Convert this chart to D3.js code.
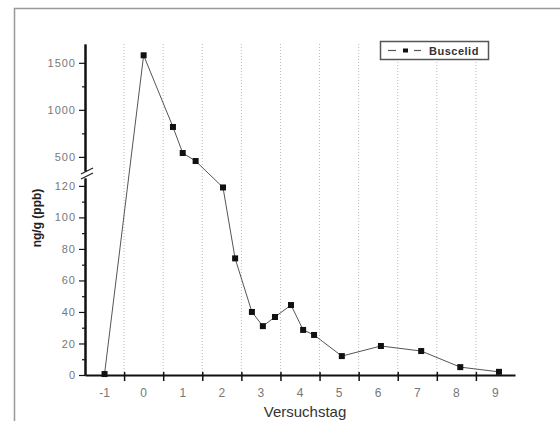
<!DOCTYPE html>
<html>
<head>
<meta charset="utf-8">
<script src="https://cdn.jsdelivr.net/npm/d3@7"></script>
<style>
  body { margin: 0; background: #fff; }
  #chart text { font-family: "Liberation Sans", Arial, sans-serif; }
</style>
</head>
<body>
<div id="chart"></div>
<script>
// Versuchstag (day) and concentration ng/g
var days = [-1, 0, 0.75, 1, 1.33, 2.03, 2.34, 2.77, 3.05, 3.36, 3.77, 4.08, 4.36, 5.07, 6.07, 7.1, 8.1, 9.09];
var conc = [0.6, 1580, 818, 541, 456, 119, 74, 40, 31, 36.8, 44.4, 28.6, 25.4, 12, 18.4, 15.2, 5, 2];

var dayLabels = [-1, 0, 1, 2, 3, 4, 5, 6, 7, 8, 9];
var dayTicks = [-0.5, 0.5, 1.5, 2.5, 3.5, 4.5, 5.5, 6.5, 7.5, 8.5];
var upperTicks = [500, 1000, 1500];
var upperMinor = [750, 1250];
var lowerTicks = [0, 20, 40, 60, 80, 100, 120];
var lowerMinor = [10, 30, 50, 70, 90, 110];
var seriesName = "Buscelid";

function chart() {
  var w = 560;
  var h = 421;
  var breakAt = 125;

  var svg = d3.select("#chart")
              .append("svg")
              .attr("width", w)
              .attr("height", h);

  // outer frame (only top and left visible)
  svg.append("path")
     .attr("d", "M14.5,421V8.5H560")
     .attr("fill", "none")
     .attr("stroke", "#999")
     .attr("stroke-width", 1.5);

  var x = d3.scaleLinear().domain([-1.5, 9.5]).range([85, 515]);
  // broken y axis: two pieces
  var yLow = d3.scaleLinear().domain([0, breakAt]).range([375, 178]);
  var yHigh = d3.scaleLinear().domain([350, 1700]).range([171, 44]);
  function y(v) { return v <= breakAt ? yLow(v) : yHigh(v); }

  // vertical dotted grid
  svg.append("g")
     .selectAll("line")
     .data(dayTicks)
     .enter()
     .append("line")
     .attr("x1", function(d) { return x(d); })
     .attr("x2", function(d) { return x(d); })
     .attr("y1", 44)
     .attr("y2", 375)
     .attr("stroke", "#bbb")
     .attr("stroke-width", 1)
     .attr("stroke-dasharray", "1,2");

  // x axis
  var xAxis = svg.append("g")
     .attr("transform", "translate(0,375)")
     .call(d3.axisBottom(x).tickValues(dayTicks).tickSize(6).tickSizeOuter(0).tickFormat(""));
  xAxis.select(".domain").attr("stroke", "#111").attr("stroke-width", 2);
  xAxis.selectAll(".tick line").attr("stroke", "#111").attr("stroke-width", 1.5).attr("y1", -3);

  svg.append("g")
     .selectAll("text")
     .data(dayLabels)
     .enter()
     .append("text")
     .attr("x", function(d) { return x(d); })
     .attr("y", 397)
     .attr("text-anchor", "middle")
     .attr("font-size", 12)
     .attr("fill", "#777")
     .text(function(d) { return d; });

  // y axes
  function styleY(g) {
    g.select(".domain").attr("stroke", "#111").attr("stroke-width", 2);
    g.selectAll(".tick line").attr("stroke", "#111").attr("stroke-width", 1.2);
    g.selectAll(".tick text")
     .attr("font-size", 11)
     .attr("letter-spacing", 1)
     .attr("fill", "#777");
  }
  var fmt = d3.format("d");
  var gHigh = svg.append("g")
     .attr("transform", "translate(85,0)")
     .call(d3.axisLeft(yHigh).tickValues(upperTicks).tickFormat(fmt).tickSize(6).tickSizeOuter(0).tickPadding(3));
  styleY(gHigh);
  svg.append("g")
     .attr("transform", "translate(85,0)")
     .call(d3.axisLeft(yHigh).tickValues(upperMinor).tickSize(3).tickSizeOuter(0).tickFormat(""))
     .call(styleY);

  var gLow = svg.append("g")
     .attr("transform", "translate(85,0)")
     .call(d3.axisLeft(yLow).tickValues(lowerTicks).tickFormat(fmt).tickSize(6).tickSizeOuter(0).tickPadding(3));
  styleY(gLow);
  svg.append("g")
     .attr("transform", "translate(85,0)")
     .call(d3.axisLeft(yLow).tickValues(lowerMinor).tickSize(3).tickSizeOuter(0).tickFormat(""))
     .call(styleY);

  // break marks
  svg.append("g")
     .selectAll("line")
     .data([0, 5])
     .enter()
     .append("line")
     .attr("x1", 81)
     .attr("x2", 93)
     .attr("y1", function(d) { return 174 + d; })
     .attr("y2", function(d) { return 168 + d; })
     .attr("stroke", "#222")
     .attr("stroke-width", 1.2);

  // line + symbols
  var pts = days.map(function(d, i) { return [x(d), y(conc[i])]; });
  svg.append("path")
     .attr("d", d3.line()(pts))
     .attr("fill", "none")
     .attr("stroke", "#555")
     .attr("stroke-width", 1);

  svg.append("g")
     .selectAll("rect")
     .data(pts)
     .enter()
     .append("rect")
     .attr("x", function(d) { return d[0] - 3; })
     .attr("y", function(d) { return d[1] - 3; })
     .attr("width", 6)
     .attr("height", 6)
     .attr("fill", "#111");

  // axis titles
  svg.append("text")
     .attr("transform", "translate(41,218) rotate(-90)")
     .attr("text-anchor", "middle")
     .attr("font-size", 12)
     .attr("font-weight", "bold")
     .attr("fill", "#222")
     .text("ng/g (ppb)");

  svg.append("text")
     .attr("x", 305)
     .attr("y", 417)
     .attr("text-anchor", "middle")
     .attr("font-size", 15)
     .attr("fill", "#333")
     .text("Versuchstag");

  // legend
  var leg = svg.append("g");
  leg.append("rect")
     .attr("x", 380.5)
     .attr("y", 41.5)
     .attr("width", 108)
     .attr("height", 18)
     .attr("fill", "#fff")
     .attr("stroke", "#555")
     .attr("stroke-width", 1.5);
  leg.selectAll("line")
     .data([[388, 396], [414, 421]])
     .enter()
     .append("line")
     .attr("x1", function(d) { return d[0]; })
     .attr("x2", function(d) { return d[1]; })
     .attr("y1", 50.5)
     .attr("y2", 50.5)
     .attr("stroke", "#555")
     .attr("stroke-width", 1.2);
  leg.append("rect")
     .attr("x", 403)
     .attr("y", 48.5)
     .attr("width", 5)
     .attr("height", 4)
     .attr("fill", "#111");
  leg.append("text")
     .attr("x", 429)
     .attr("y", 54.5)
     .attr("font-size", 11)
     .attr("font-weight", "bold")
     .attr("letter-spacing", 0.5)
     .attr("fill", "#333")
     .text(seriesName);
}

window.onload = function() {
  chart();
};
</script>
</body>
</html>
